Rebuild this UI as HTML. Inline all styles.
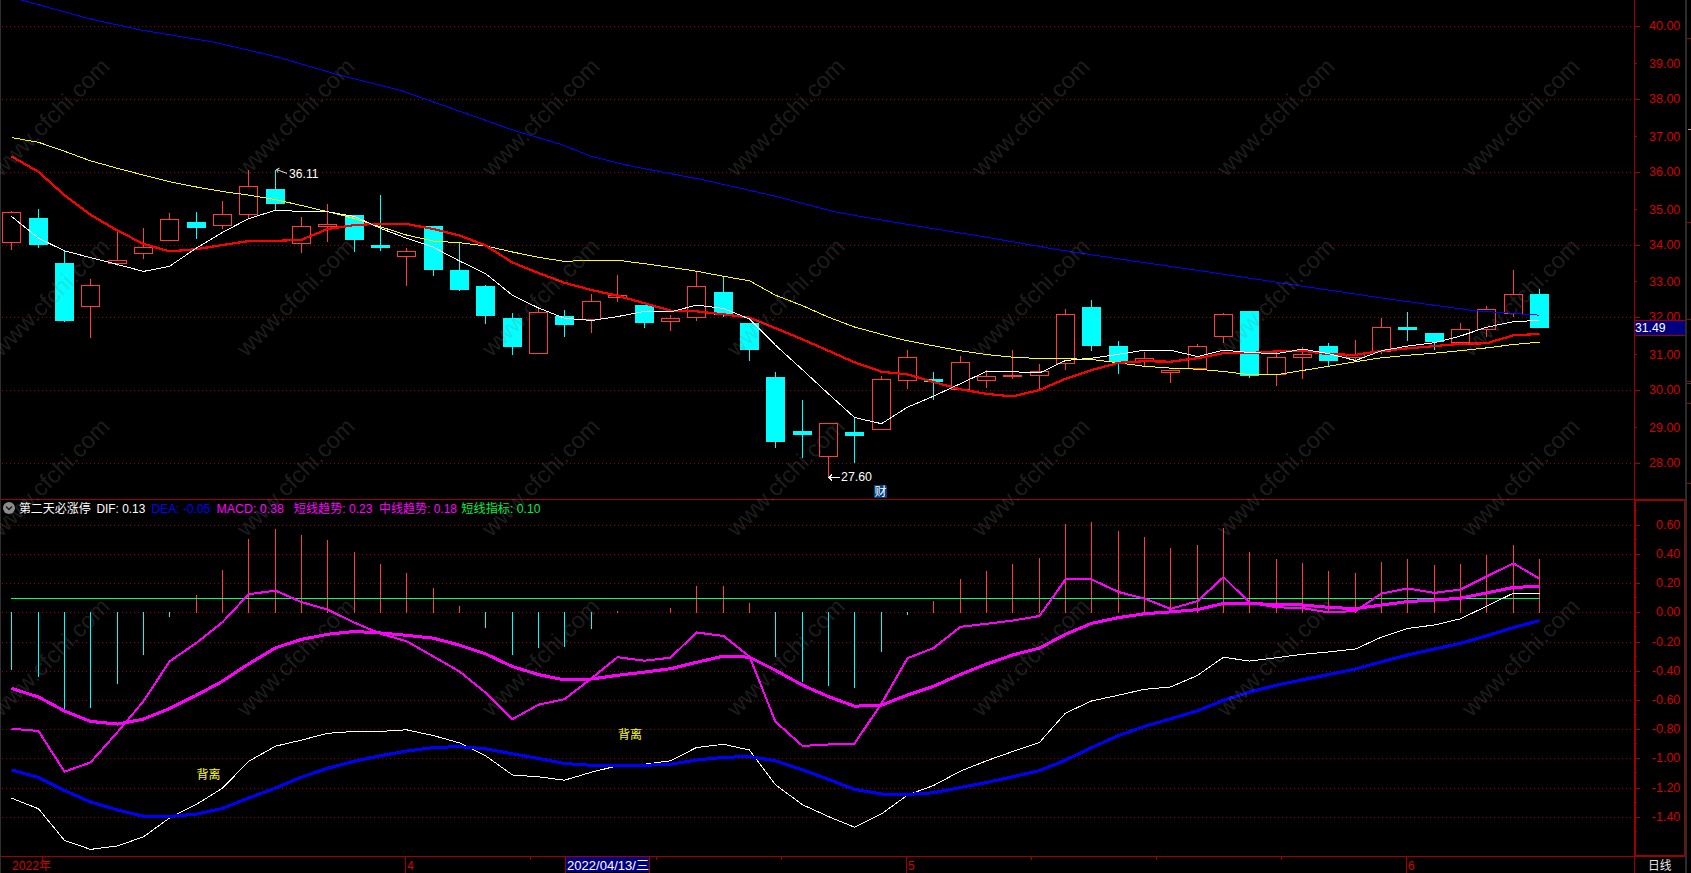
<!DOCTYPE html><html><head><meta charset="utf-8"><title>chart</title><style>html,body{margin:0;padding:0;background:#000;overflow:hidden}svg{display:block}</style></head><body><svg width="1691" height="873" viewBox="0 0 1691 873" shape-rendering="crispEdges" font-family="'Liberation Sans','Noto Sans CJK SC',sans-serif" font-size="12">
<rect width="1691" height="873" fill="#000"/>
<rect x="0" y="0" width="1" height="873" fill="#2e2e2e"/>
<rect x="1685" y="0" width="2" height="873" fill="#2c2c2c"/>
<rect x="1687" y="38" width="4" height="1" fill="#9c0000"/>
<rect x="1687" y="222" width="4" height="1" fill="#9c0000"/>
<rect x="1687" y="319" width="4" height="1" fill="#9c0000"/>
<rect x="1687" y="381" width="4" height="1" fill="#9c0000"/>
<rect x="1687" y="403" width="4" height="1" fill="#9c0000"/>
<rect x="1687" y="483" width="4" height="1" fill="#9c0000"/>
<rect x="1688" y="129" width="3" height="1" fill="#d8a000"/>
<rect x="1687" y="383" width="4" height="1" fill="#3a3a3a"/>
<line x1="2" y1="26.5" x2="1631" y2="26.5" stroke="#900000" stroke-width="1" stroke-dasharray="1 3"/>
<line x1="2" y1="99.5" x2="1631" y2="99.5" stroke="#900000" stroke-width="1" stroke-dasharray="1 3"/>
<line x1="2" y1="172.5" x2="1631" y2="172.5" stroke="#900000" stroke-width="1" stroke-dasharray="1 3"/>
<line x1="2" y1="245.5" x2="1631" y2="245.5" stroke="#900000" stroke-width="1" stroke-dasharray="1 3"/>
<line x1="2" y1="317.5" x2="1631" y2="317.5" stroke="#900000" stroke-width="1" stroke-dasharray="1 3"/>
<line x1="2" y1="390.5" x2="1631" y2="390.5" stroke="#900000" stroke-width="1" stroke-dasharray="1 3"/>
<line x1="2" y1="463.5" x2="1631" y2="463.5" stroke="#900000" stroke-width="1" stroke-dasharray="1 3"/>
<line x1="2" y1="525.5" x2="1631" y2="525.5" stroke="#900000" stroke-width="1" stroke-dasharray="1 3"/>
<line x1="2" y1="554.5" x2="1631" y2="554.5" stroke="#900000" stroke-width="1" stroke-dasharray="1 3"/>
<line x1="2" y1="583.5" x2="1631" y2="583.5" stroke="#900000" stroke-width="1" stroke-dasharray="1 3"/>
<line x1="2" y1="612.5" x2="1631" y2="612.5" stroke="#900000" stroke-width="1" stroke-dasharray="1 3"/>
<line x1="2" y1="642.5" x2="1631" y2="642.5" stroke="#900000" stroke-width="1" stroke-dasharray="1 3"/>
<line x1="2" y1="671.5" x2="1631" y2="671.5" stroke="#900000" stroke-width="1" stroke-dasharray="1 3"/>
<line x1="2" y1="700.5" x2="1631" y2="700.5" stroke="#900000" stroke-width="1" stroke-dasharray="1 3"/>
<line x1="2" y1="729.5" x2="1631" y2="729.5" stroke="#900000" stroke-width="1" stroke-dasharray="1 3"/>
<line x1="2" y1="758.5" x2="1631" y2="758.5" stroke="#900000" stroke-width="1" stroke-dasharray="1 3"/>
<line x1="2" y1="788.5" x2="1631" y2="788.5" stroke="#900000" stroke-width="1" stroke-dasharray="1 3"/>
<line x1="2" y1="817.5" x2="1631" y2="817.5" stroke="#900000" stroke-width="1" stroke-dasharray="1 3"/>
<rect x="1634" y="0" width="1" height="873" fill="#9c0000"/>
<rect x="1635" y="499" width="1" height="358" fill="#9c0000"/>
<rect x="1" y="499" width="1634" height="1" fill="#9c0000"/>
<rect x="1634" y="499" width="51" height="2" fill="#9c0000"/>
<rect x="1684" y="499" width="1" height="358" fill="#9c0000"/>
<rect x="1" y="856" width="1634" height="1" fill="#9c0000"/>
<rect x="1634" y="855" width="51" height="2" fill="#9c0000"/>
<rect x="1635" y="26" width="5" height="1" fill="#9c0000"/>
<text x="1680.3" y="30.1" text-anchor="end" font-size="12.5" fill="#d40000">40.00</text>
<rect x="1635" y="63" width="2" height="1" fill="#9c0000"/>
<text x="1680.3" y="68.1" text-anchor="end" font-size="12.5" fill="#d40000">39.00</text>
<rect x="1635" y="99" width="5" height="1" fill="#9c0000"/>
<text x="1680.3" y="103.1" text-anchor="end" font-size="12.5" fill="#d40000">38.00</text>
<rect x="1635" y="136" width="2" height="1" fill="#9c0000"/>
<text x="1680.3" y="141.1" text-anchor="end" font-size="12.5" fill="#d40000">37.00</text>
<rect x="1635" y="172" width="5" height="1" fill="#9c0000"/>
<text x="1680.3" y="176.1" text-anchor="end" font-size="12.5" fill="#d40000">36.00</text>
<rect x="1635" y="209" width="2" height="1" fill="#9c0000"/>
<text x="1680.3" y="214.1" text-anchor="end" font-size="12.5" fill="#d40000">35.00</text>
<rect x="1635" y="245" width="5" height="1" fill="#9c0000"/>
<text x="1680.3" y="249.1" text-anchor="end" font-size="12.5" fill="#d40000">34.00</text>
<rect x="1635" y="281" width="2" height="1" fill="#9c0000"/>
<text x="1680.3" y="286.1" text-anchor="end" font-size="12.5" fill="#d40000">33.00</text>
<rect x="1635" y="317" width="5" height="1" fill="#9c0000"/>
<text x="1680.3" y="321.1" text-anchor="end" font-size="12.5" fill="#d40000">32.00</text>
<rect x="1635" y="354" width="2" height="1" fill="#9c0000"/>
<text x="1680.3" y="359.1" text-anchor="end" font-size="12.5" fill="#d40000">31.00</text>
<rect x="1635" y="390" width="5" height="1" fill="#9c0000"/>
<text x="1680.3" y="394.1" text-anchor="end" font-size="12.5" fill="#d40000">30.00</text>
<rect x="1635" y="427" width="2" height="1" fill="#9c0000"/>
<text x="1680.3" y="432.1" text-anchor="end" font-size="12.5" fill="#d40000">29.00</text>
<rect x="1635" y="463" width="5" height="1" fill="#9c0000"/>
<text x="1680.3" y="467.1" text-anchor="end" font-size="12.5" fill="#d40000">28.00</text>
<rect x="1636" y="525" width="4" height="1" fill="#9c0000"/>
<text x="1680.3" y="529.1" text-anchor="end" font-size="12.5" fill="#d40000">0.60</text>
<rect x="1636" y="539" width="1" height="1" fill="#9c0000"/>
<rect x="1636" y="554" width="4" height="1" fill="#9c0000"/>
<text x="1680.3" y="558.1" text-anchor="end" font-size="12.5" fill="#d40000">0.40</text>
<rect x="1636" y="568" width="1" height="1" fill="#9c0000"/>
<rect x="1636" y="583" width="4" height="1" fill="#9c0000"/>
<text x="1680.3" y="587.1" text-anchor="end" font-size="12.5" fill="#d40000">0.20</text>
<rect x="1636" y="597" width="1" height="1" fill="#9c0000"/>
<rect x="1636" y="612" width="4" height="1" fill="#9c0000"/>
<text x="1680.3" y="616.1" text-anchor="end" font-size="12.5" fill="#d40000">0.00</text>
<rect x="1636" y="626" width="1" height="1" fill="#9c0000"/>
<rect x="1636" y="642" width="4" height="1" fill="#9c0000"/>
<text x="1680.3" y="646.1" text-anchor="end" font-size="12.5" fill="#d40000">-0.20</text>
<rect x="1636" y="656" width="1" height="1" fill="#9c0000"/>
<rect x="1636" y="671" width="4" height="1" fill="#9c0000"/>
<text x="1680.3" y="675.1" text-anchor="end" font-size="12.5" fill="#d40000">-0.40</text>
<rect x="1636" y="685" width="1" height="1" fill="#9c0000"/>
<rect x="1636" y="700" width="4" height="1" fill="#9c0000"/>
<text x="1680.3" y="704.1" text-anchor="end" font-size="12.5" fill="#d40000">-0.60</text>
<rect x="1636" y="714" width="1" height="1" fill="#9c0000"/>
<rect x="1636" y="729" width="4" height="1" fill="#9c0000"/>
<text x="1680.3" y="733.1" text-anchor="end" font-size="12.5" fill="#d40000">-0.80</text>
<rect x="1636" y="743" width="1" height="1" fill="#9c0000"/>
<rect x="1636" y="758" width="4" height="1" fill="#9c0000"/>
<text x="1680.3" y="762.1" text-anchor="end" font-size="12.5" fill="#d40000">-1.00</text>
<rect x="1636" y="772" width="1" height="1" fill="#9c0000"/>
<rect x="1636" y="788" width="4" height="1" fill="#9c0000"/>
<text x="1680.3" y="792.1" text-anchor="end" font-size="12.5" fill="#d40000">-1.20</text>
<rect x="1636" y="802" width="1" height="1" fill="#9c0000"/>
<rect x="1636" y="817" width="4" height="1" fill="#9c0000"/>
<text x="1680.3" y="821.1" text-anchor="end" font-size="12.5" fill="#d40000">-1.40</text>
<rect x="1636" y="831" width="1" height="1" fill="#9c0000"/>
<rect x="1636" y="510" width="1" height="1" fill="#9c0000"/>
<rect x="11" y="211" width="1" height="1" fill="#ff3c3c"/>
<rect x="11" y="242" width="1" height="8" fill="#ff3c3c"/>
<rect x="2.5" y="212.5" width="18" height="30" fill="#000" stroke="#ff3c3c" stroke-width="1"/>
<rect x="38" y="209" width="1" height="9" fill="#00ffff"/>
<rect x="38" y="244" width="1" height="4" fill="#00ffff"/>
<rect x="29" y="218" width="19" height="27" fill="#00ffff"/>
<rect x="64" y="251" width="1" height="12" fill="#00ffff"/>
<rect x="64" y="320" width="1" height="2" fill="#00ffff"/>
<rect x="55" y="263" width="19" height="58" fill="#00ffff"/>
<rect x="90" y="279" width="1" height="6" fill="#ff3c3c"/>
<rect x="90" y="306" width="1" height="32" fill="#ff3c3c"/>
<rect x="81.5" y="285.5" width="18" height="21" fill="#000" stroke="#ff3c3c" stroke-width="1"/>
<rect x="117" y="230" width="1" height="30" fill="#ff3c3c"/>
<rect x="117" y="263" width="1" height="3" fill="#ff3c3c"/>
<rect x="108.5" y="260.5" width="18" height="3" fill="#000" stroke="#ff3c3c" stroke-width="1"/>
<rect x="143" y="228" width="1" height="19" fill="#ff3c3c"/>
<rect x="143" y="253" width="1" height="6" fill="#ff3c3c"/>
<rect x="134.5" y="247.5" width="18" height="6" fill="#000" stroke="#ff3c3c" stroke-width="1"/>
<rect x="169" y="213" width="1" height="6" fill="#ff3c3c"/>
<rect x="160.5" y="219.5" width="18" height="21" fill="#000" stroke="#ff3c3c" stroke-width="1"/>
<rect x="196" y="212" width="1" height="10" fill="#00ffff"/>
<rect x="196" y="227" width="1" height="12" fill="#00ffff"/>
<rect x="187" y="222" width="19" height="6" fill="#00ffff"/>
<rect x="222" y="201" width="1" height="13" fill="#ff3c3c"/>
<rect x="222" y="225" width="1" height="4" fill="#ff3c3c"/>
<rect x="213.5" y="214.5" width="18" height="11" fill="#000" stroke="#ff3c3c" stroke-width="1"/>
<rect x="248" y="170" width="1" height="16" fill="#ff3c3c"/>
<rect x="248" y="214" width="1" height="5" fill="#ff3c3c"/>
<rect x="239.5" y="186.5" width="18" height="28" fill="#000" stroke="#ff3c3c" stroke-width="1"/>
<rect x="275" y="170" width="1" height="19" fill="#00ffff"/>
<rect x="275" y="203" width="1" height="7" fill="#00ffff"/>
<rect x="266" y="189" width="19" height="15" fill="#00ffff"/>
<rect x="301" y="217" width="1" height="9" fill="#ff3c3c"/>
<rect x="301" y="243" width="1" height="10" fill="#ff3c3c"/>
<rect x="292.5" y="226.5" width="18" height="17" fill="#000" stroke="#ff3c3c" stroke-width="1"/>
<rect x="327" y="204" width="1" height="20" fill="#ff3c3c"/>
<rect x="327" y="226" width="1" height="16" fill="#ff3c3c"/>
<rect x="318.5" y="224.5" width="18" height="2" fill="#000" stroke="#ff3c3c" stroke-width="1"/>
<rect x="354" y="239" width="1" height="13" fill="#00ffff"/>
<rect x="345" y="215" width="19" height="25" fill="#00ffff"/>
<rect x="380" y="195" width="1" height="50" fill="#00ffff"/>
<rect x="380" y="247" width="1" height="4" fill="#00ffff"/>
<rect x="371" y="245" width="19" height="3" fill="#00ffff"/>
<rect x="406" y="248" width="1" height="3" fill="#ff3c3c"/>
<rect x="406" y="256" width="1" height="30" fill="#ff3c3c"/>
<rect x="397.5" y="251.5" width="18" height="5" fill="#000" stroke="#ff3c3c" stroke-width="1"/>
<rect x="433" y="269" width="1" height="7" fill="#00ffff"/>
<rect x="424" y="226" width="19" height="44" fill="#00ffff"/>
<rect x="459" y="242" width="1" height="28" fill="#00ffff"/>
<rect x="459" y="289" width="1" height="2" fill="#00ffff"/>
<rect x="450" y="270" width="19" height="20" fill="#00ffff"/>
<rect x="485" y="285" width="1" height="1" fill="#00ffff"/>
<rect x="485" y="315" width="1" height="9" fill="#00ffff"/>
<rect x="476" y="286" width="19" height="30" fill="#00ffff"/>
<rect x="512" y="313" width="1" height="5" fill="#00ffff"/>
<rect x="512" y="346" width="1" height="9" fill="#00ffff"/>
<rect x="503" y="318" width="19" height="29" fill="#00ffff"/>
<rect x="538" y="308" width="1" height="4" fill="#ff3c3c"/>
<rect x="529.5" y="312.5" width="18" height="41" fill="#000" stroke="#ff3c3c" stroke-width="1"/>
<rect x="564" y="310" width="1" height="6" fill="#00ffff"/>
<rect x="564" y="324" width="1" height="13" fill="#00ffff"/>
<rect x="555" y="316" width="19" height="9" fill="#00ffff"/>
<rect x="591" y="294" width="1" height="7" fill="#ff3c3c"/>
<rect x="591" y="319" width="1" height="14" fill="#ff3c3c"/>
<rect x="582.5" y="301.5" width="18" height="18" fill="#000" stroke="#ff3c3c" stroke-width="1"/>
<rect x="617" y="275" width="1" height="20" fill="#ff3c3c"/>
<rect x="617" y="297" width="1" height="5" fill="#ff3c3c"/>
<rect x="608.5" y="295.5" width="18" height="2" fill="#000" stroke="#ff3c3c" stroke-width="1"/>
<rect x="644" y="322" width="1" height="6" fill="#00ffff"/>
<rect x="635" y="305" width="19" height="18" fill="#00ffff"/>
<rect x="670" y="315" width="1" height="3" fill="#ff3c3c"/>
<rect x="670" y="321" width="1" height="10" fill="#ff3c3c"/>
<rect x="661.5" y="318.5" width="18" height="3" fill="#000" stroke="#ff3c3c" stroke-width="1"/>
<rect x="696" y="271" width="1" height="15" fill="#ff3c3c"/>
<rect x="696" y="317" width="1" height="4" fill="#ff3c3c"/>
<rect x="687.5" y="286.5" width="18" height="31" fill="#000" stroke="#ff3c3c" stroke-width="1"/>
<rect x="723" y="277" width="1" height="15" fill="#00ffff"/>
<rect x="723" y="314" width="1" height="3" fill="#00ffff"/>
<rect x="714" y="292" width="19" height="23" fill="#00ffff"/>
<rect x="749" y="349" width="1" height="12" fill="#00ffff"/>
<rect x="740" y="323" width="19" height="27" fill="#00ffff"/>
<rect x="775" y="372" width="1" height="5" fill="#00ffff"/>
<rect x="775" y="441" width="1" height="7" fill="#00ffff"/>
<rect x="766" y="377" width="19" height="65" fill="#00ffff"/>
<rect x="802" y="400" width="1" height="31" fill="#00ffff"/>
<rect x="802" y="434" width="1" height="24" fill="#00ffff"/>
<rect x="793" y="431" width="19" height="4" fill="#00ffff"/>
<rect x="828" y="456" width="1" height="22" fill="#ff3c3c"/>
<rect x="819.5" y="423.5" width="18" height="33" fill="#000" stroke="#ff3c3c" stroke-width="1"/>
<rect x="854" y="417" width="1" height="15" fill="#00ffff"/>
<rect x="854" y="435" width="1" height="28" fill="#00ffff"/>
<rect x="845" y="432" width="19" height="4" fill="#00ffff"/>
<rect x="881" y="376" width="1" height="3" fill="#ff3c3c"/>
<rect x="872.5" y="379.5" width="18" height="50" fill="#000" stroke="#ff3c3c" stroke-width="1"/>
<rect x="907" y="350" width="1" height="7" fill="#ff3c3c"/>
<rect x="907" y="380" width="1" height="9" fill="#ff3c3c"/>
<rect x="898.5" y="357.5" width="18" height="23" fill="#000" stroke="#ff3c3c" stroke-width="1"/>
<rect x="933" y="372" width="1" height="7" fill="#00ffff"/>
<rect x="933" y="381" width="1" height="19" fill="#00ffff"/>
<rect x="924" y="379" width="19" height="3" fill="#00ffff"/>
<rect x="960" y="356" width="1" height="6" fill="#ff3c3c"/>
<rect x="951.5" y="362.5" width="18" height="27" fill="#000" stroke="#ff3c3c" stroke-width="1"/>
<rect x="986" y="370" width="1" height="6" fill="#ff3c3c"/>
<rect x="986" y="380" width="1" height="8" fill="#ff3c3c"/>
<rect x="977.5" y="376.5" width="18" height="4" fill="#000" stroke="#ff3c3c" stroke-width="1"/>
<rect x="1012" y="350" width="1" height="25" fill="#ff3c3c"/>
<rect x="1012" y="376" width="1" height="3" fill="#ff3c3c"/>
<rect x="1003.5" y="375.5" width="18" height="1" fill="#000" stroke="#ff3c3c" stroke-width="1"/>
<rect x="1039" y="364" width="1" height="7" fill="#ff3c3c"/>
<rect x="1039" y="375" width="1" height="14" fill="#ff3c3c"/>
<rect x="1030.5" y="371.5" width="18" height="4" fill="#000" stroke="#ff3c3c" stroke-width="1"/>
<rect x="1065" y="309" width="1" height="5" fill="#ff3c3c"/>
<rect x="1065" y="363" width="1" height="7" fill="#ff3c3c"/>
<rect x="1056.5" y="314.5" width="18" height="49" fill="#000" stroke="#ff3c3c" stroke-width="1"/>
<rect x="1091" y="300" width="1" height="7" fill="#00ffff"/>
<rect x="1091" y="345" width="1" height="6" fill="#00ffff"/>
<rect x="1082" y="307" width="19" height="39" fill="#00ffff"/>
<rect x="1118" y="341" width="1" height="5" fill="#00ffff"/>
<rect x="1118" y="361" width="1" height="13" fill="#00ffff"/>
<rect x="1109" y="346" width="19" height="16" fill="#00ffff"/>
<rect x="1144" y="352" width="1" height="6" fill="#ff3c3c"/>
<rect x="1144" y="361" width="1" height="6" fill="#ff3c3c"/>
<rect x="1135.5" y="358.5" width="18" height="3" fill="#000" stroke="#ff3c3c" stroke-width="1"/>
<rect x="1170" y="372" width="1" height="11" fill="#ff3c3c"/>
<rect x="1161.5" y="370.5" width="18" height="2" fill="#000" stroke="#ff3c3c" stroke-width="1"/>
<rect x="1197" y="344" width="1" height="2" fill="#ff3c3c"/>
<rect x="1188.5" y="346.5" width="18" height="22" fill="#000" stroke="#ff3c3c" stroke-width="1"/>
<rect x="1223" y="313" width="1" height="1" fill="#ff3c3c"/>
<rect x="1223" y="336" width="1" height="7" fill="#ff3c3c"/>
<rect x="1214.5" y="314.5" width="18" height="22" fill="#000" stroke="#ff3c3c" stroke-width="1"/>
<rect x="1249" y="375" width="1" height="3" fill="#00ffff"/>
<rect x="1240" y="311" width="19" height="65" fill="#00ffff"/>
<rect x="1276" y="352" width="1" height="5" fill="#ff3c3c"/>
<rect x="1276" y="374" width="1" height="12" fill="#ff3c3c"/>
<rect x="1267.5" y="357.5" width="18" height="17" fill="#000" stroke="#ff3c3c" stroke-width="1"/>
<rect x="1302" y="347" width="1" height="7" fill="#ff3c3c"/>
<rect x="1302" y="357" width="1" height="22" fill="#ff3c3c"/>
<rect x="1293.5" y="354.5" width="18" height="3" fill="#000" stroke="#ff3c3c" stroke-width="1"/>
<rect x="1328" y="343" width="1" height="3" fill="#00ffff"/>
<rect x="1328" y="360" width="1" height="6" fill="#00ffff"/>
<rect x="1319" y="346" width="19" height="15" fill="#00ffff"/>
<rect x="1355" y="340" width="1" height="14" fill="#ff3c3c"/>
<rect x="1355" y="357" width="1" height="5" fill="#ff3c3c"/>
<rect x="1346.5" y="354.5" width="18" height="3" fill="#000" stroke="#ff3c3c" stroke-width="1"/>
<rect x="1381" y="318" width="1" height="9" fill="#ff3c3c"/>
<rect x="1381" y="351" width="1" height="3" fill="#ff3c3c"/>
<rect x="1372.5" y="327.5" width="18" height="24" fill="#000" stroke="#ff3c3c" stroke-width="1"/>
<rect x="1407" y="312" width="1" height="15" fill="#00ffff"/>
<rect x="1407" y="329" width="1" height="12" fill="#00ffff"/>
<rect x="1398" y="327" width="19" height="3" fill="#00ffff"/>
<rect x="1434" y="341" width="1" height="9" fill="#00ffff"/>
<rect x="1425" y="333" width="19" height="9" fill="#00ffff"/>
<rect x="1460" y="323" width="1" height="6" fill="#ff3c3c"/>
<rect x="1451.5" y="329.5" width="18" height="13" fill="#000" stroke="#ff3c3c" stroke-width="1"/>
<rect x="1486" y="306" width="1" height="3" fill="#ff3c3c"/>
<rect x="1486" y="329" width="1" height="8" fill="#ff3c3c"/>
<rect x="1477.5" y="309.5" width="18" height="20" fill="#000" stroke="#ff3c3c" stroke-width="1"/>
<rect x="1513" y="270" width="1" height="24" fill="#ff3c3c"/>
<rect x="1513" y="313" width="1" height="4" fill="#ff3c3c"/>
<rect x="1504.5" y="294.5" width="18" height="19" fill="#000" stroke="#ff3c3c" stroke-width="1"/>
<rect x="1539" y="289" width="1" height="5" fill="#00ffff"/>
<rect x="1530" y="294" width="19" height="34" fill="#00ffff"/>
<polyline points="21.3,0 92.3,19.5 141.9,30.2 212.9,41.9 276.8,56.8 337.1,74.5 401,90.5 461.3,111.8 514.5,130.6 560,144.1 591.9,156.6 631,166.1 701.9,179.6 772.9,195.6 836.8,212.3 914.9,225.7 985.8,237.1 1056.8,249.5 1127.8,260.2 1203.2,271.2 1290,284.3 1381.6,298 1473.2,310.6 1539.4,315.2" fill="none" stroke="#0000ff" stroke-width="1"/>
<polyline points="11.5,137.6 38.5,142.3 64.5,151.3 90.5,160.8 117.5,168.3 143.5,175.1 169.5,181.7 196.5,187.0 222.5,191.5 248.5,195.1 275.5,199.6 301.5,205.5 327.5,211.7 354.5,218.5 380.5,226.8 406.5,235.0 433.5,241.1 459.5,242.7 485.5,245.9 512.5,252.0 538.5,257.3 564.5,261.4 591.5,260.2 617.5,260.2 644.5,263.7 670.5,267.3 696.5,271.2 723.5,276.3 749.5,280.8 775.5,295.2 802.5,305.7 828.5,317.2 854.5,327.0 881.5,334.3 907.5,340.8 933.5,345.8 960.5,350.8 986.5,354.5 1012.5,357.2 1039.5,358.5 1065.5,358.7 1091.5,359.4 1118.5,362.8 1144.5,366.3 1170.5,368.1 1197.5,369.2 1223.5,371.5 1249.5,374.7 1276.5,374.7 1302.5,370.5 1328.5,366.3 1355.5,361.7 1381.5,357.8 1407.5,355.3 1434.5,353.2 1460.5,350.7 1486.5,347.9 1513.5,344.5 1539.5,342.2" fill="none" stroke="#ffff00" stroke-width="1" stroke-linejoin="round"/>
<polyline points="11.5,156.4 38.5,171.8 64.5,195.3 90.5,214.8 117.5,230.6 143.5,243.9 169.5,251.4 196.5,249.2 222.5,245.0 248.5,241.1 275.5,240.9 301.5,239.8 327.5,229.0 354.5,225.1 380.5,223.7 406.5,224.0 433.5,229.0 459.5,235.4 485.5,245.4 512.5,262.5 538.5,273.0 564.5,282.8 591.5,290.0 617.5,295.7 644.5,303.3 670.5,310.6 696.5,311.3 723.5,314.3 749.5,317.7 775.5,328.2 802.5,339.4 828.5,350.8 854.5,362.3 881.5,371.7 907.5,374.4 933.5,382.0 960.5,389.3 986.5,393.9 1012.5,396.4 1039.5,390.0 1065.5,378.8 1091.5,370.1 1118.5,362.8 1144.5,361.2 1170.5,361.7 1197.5,358.2 1223.5,353.2 1249.5,353.0 1276.5,351.4 1302.5,350.7 1328.5,354.3 1355.5,354.8 1381.5,350.9 1407.5,348.4 1434.5,346.1 1460.5,343.8 1486.5,343.3 1513.5,335.3 1539.5,334.0" fill="none" stroke="#ff0000" stroke-width="2.2" stroke-linejoin="round"/>
<polyline points="11.5,216.4 38.5,238.2 64.5,250.8 90.5,257.6 117.5,264.5 143.5,271.4 169.5,266.3 196.5,248.0 222.5,232.4 248.5,218.7 275.5,210.3 301.5,211.4 327.5,211.8 354.5,216.4 380.5,228.3 406.5,238.2 433.5,247.3 459.5,261.0 485.5,273.6 512.5,295.3 538.5,308.0 564.5,318.2 591.5,320.5 617.5,316.6 644.5,311.3 670.5,312.0 696.5,305.1 723.5,308.5 749.5,319.0 775.5,345.2 802.5,369.8 828.5,393.9 854.5,417.5 881.5,423.7 907.5,407.2 933.5,396.2 960.5,383.6 986.5,371.4 1012.5,371.7 1039.5,373.0 1065.5,360.5 1091.5,358.2 1118.5,354.3 1144.5,350.2 1170.5,350.2 1197.5,356.6 1223.5,350.2 1249.5,352.5 1276.5,353.7 1302.5,349.1 1328.5,353.7 1355.5,360.5 1381.5,350.7 1407.5,346.1 1434.5,342.7 1460.5,336.0 1486.5,327.3 1513.5,321.6 1539.5,320.5" fill="none" stroke="#ffffff" stroke-width="1" stroke-linejoin="round"/>
<path d="M287 173.4L276.5 169.5M276.5 169.5L279.5 168.2M276.5 169.5L277.8 172.5" fill="none" stroke="#e8e8e8" stroke-width="1" shape-rendering="auto"/>
<text x="289" y="178" fill="#ffffff" textLength="29.5" lengthAdjust="spacingAndGlyphs">36.11</text>
<path d="M829 477.5H840M832 474.5L829 477.5L832 480.5" fill="none" stroke="#fff" stroke-width="1"/>
<text x="841" y="481" fill="#ffffff" textLength="31" lengthAdjust="spacingAndGlyphs">27.60</text>
<path d="M874 485H885L887 487V498H874Z" fill="#004080"/>
<text x="874.5" y="496" fill="#fff">财</text>
<rect x="1635" y="320" width="50" height="16" fill="#000080"/>
<rect x="1635" y="320" width="50" height="1" fill="#9c0000"/><rect x="1635" y="335" width="50" height="1" fill="#9c0000"/>
<text x="1635" y="331.5" fill="#fff" textLength="30.5" lengthAdjust="spacingAndGlyphs">31.49</text>
<rect x="11" y="612" width="1" height="58" fill="#00ffff"/>
<rect x="38" y="612" width="1" height="65" fill="#00ffff"/>
<rect x="64" y="612" width="1" height="98" fill="#00ffff"/>
<rect x="90" y="612" width="1" height="96" fill="#00ffff"/>
<rect x="117" y="612" width="1" height="72" fill="#00ffff"/>
<rect x="143" y="612" width="1" height="43" fill="#00ffff"/>
<rect x="169" y="612" width="1" height="5" fill="#00ffff"/>
<rect x="196" y="595" width="1" height="18" fill="#ff3c3c"/>
<rect x="222" y="570" width="1" height="43" fill="#ff3c3c"/>
<rect x="248" y="539" width="1" height="74" fill="#ff3c3c"/>
<rect x="275" y="529" width="1" height="84" fill="#ff3c3c"/>
<rect x="301" y="535" width="1" height="78" fill="#ff3c3c"/>
<rect x="327" y="540" width="1" height="73" fill="#ff3c3c"/>
<rect x="354" y="552" width="1" height="61" fill="#ff3c3c"/>
<rect x="380" y="564" width="1" height="49" fill="#ff3c3c"/>
<rect x="406" y="573" width="1" height="40" fill="#ff3c3c"/>
<rect x="433" y="588" width="1" height="25" fill="#ff3c3c"/>
<rect x="459" y="606" width="1" height="7" fill="#ff3c3c"/>
<rect x="485" y="612" width="1" height="16" fill="#00ffff"/>
<rect x="512" y="612" width="1" height="43" fill="#00ffff"/>
<rect x="538" y="612" width="1" height="36" fill="#00ffff"/>
<rect x="564" y="612" width="1" height="35" fill="#00ffff"/>
<rect x="591" y="612" width="1" height="17" fill="#00ffff"/>
<rect x="617" y="611" width="1" height="2" fill="#ff3c3c"/>
<rect x="670" y="608" width="1" height="5" fill="#ff3c3c"/>
<rect x="696" y="586" width="1" height="27" fill="#ff3c3c"/>
<rect x="723" y="586" width="1" height="27" fill="#ff3c3c"/>
<rect x="749" y="603" width="1" height="10" fill="#ff3c3c"/>
<rect x="775" y="612" width="1" height="45" fill="#00ffff"/>
<rect x="802" y="612" width="1" height="70" fill="#00ffff"/>
<rect x="828" y="612" width="1" height="74" fill="#00ffff"/>
<rect x="854" y="612" width="1" height="76" fill="#00ffff"/>
<rect x="881" y="612" width="1" height="40" fill="#00ffff"/>
<rect x="907" y="612" width="1" height="3" fill="#00ffff"/>
<rect x="933" y="601" width="1" height="12" fill="#ff3c3c"/>
<rect x="960" y="579" width="1" height="34" fill="#ff3c3c"/>
<rect x="986" y="571" width="1" height="42" fill="#ff3c3c"/>
<rect x="1012" y="564" width="1" height="49" fill="#ff3c3c"/>
<rect x="1039" y="558" width="1" height="55" fill="#ff3c3c"/>
<rect x="1065" y="524" width="1" height="89" fill="#ff3c3c"/>
<rect x="1091" y="522" width="1" height="91" fill="#ff3c3c"/>
<rect x="1118" y="531" width="1" height="82" fill="#ff3c3c"/>
<rect x="1144" y="537" width="1" height="76" fill="#ff3c3c"/>
<rect x="1170" y="548" width="1" height="65" fill="#ff3c3c"/>
<rect x="1197" y="545" width="1" height="68" fill="#ff3c3c"/>
<rect x="1223" y="528" width="1" height="85" fill="#ff3c3c"/>
<rect x="1249" y="552" width="1" height="61" fill="#ff3c3c"/>
<rect x="1276" y="559" width="1" height="54" fill="#ff3c3c"/>
<rect x="1302" y="563" width="1" height="50" fill="#ff3c3c"/>
<rect x="1328" y="571" width="1" height="42" fill="#ff3c3c"/>
<rect x="1355" y="573" width="1" height="40" fill="#ff3c3c"/>
<rect x="1381" y="562" width="1" height="51" fill="#ff3c3c"/>
<rect x="1407" y="559" width="1" height="54" fill="#ff3c3c"/>
<rect x="1434" y="565" width="1" height="48" fill="#ff3c3c"/>
<rect x="1460" y="564" width="1" height="49" fill="#ff3c3c"/>
<rect x="1486" y="555" width="1" height="58" fill="#ff3c3c"/>
<rect x="1513" y="545" width="1" height="68" fill="#ff3c3c"/>
<rect x="1539" y="559" width="1" height="54" fill="#ff3c3c"/>
<rect x="11" y="598" width="1529" height="1" fill="#00ff60"/>
<polyline points="11.5,798.1 38.5,808.8 64.5,840.4 90.5,849.4 117.5,845.9 143.5,836.8 169.5,818.0 196.5,804.3 222.5,788.2 248.5,761.4 275.5,746.2 301.5,740.1 327.5,733.3 354.5,731.4 380.5,731.4 406.5,729.8 433.5,735.6 459.5,742.9 485.5,755.7 512.5,775.0 538.5,776.8 564.5,780.2 591.5,772.2 617.5,765.8 644.5,764.2 670.5,760.8 696.5,747.5 723.5,744.3 749.5,750.0 775.5,784.8 802.5,804.7 828.5,816.6 854.5,827.2 881.5,813.9 907.5,795.1 933.5,785.5 960.5,771.1 986.5,760.8 1012.5,751.6 1039.5,742.4 1065.5,713.1 1091.5,701.0 1118.5,695.2 1144.5,689.3 1170.5,687.0 1197.5,675.4 1223.5,657.2 1249.5,661.1 1276.5,657.7 1302.5,654.3 1328.5,652.0 1355.5,649.0 1381.5,637.1 1407.5,628.4 1434.5,625.0 1460.5,618.8 1486.5,606.2 1513.5,593.1 1539.5,593.1" fill="none" stroke="#ffffff" stroke-width="1" stroke-linejoin="round"/>
<polyline points="11.5,728.7 38.5,731.0 64.5,771.7 90.5,762.4 117.5,732.1 143.5,701.2 169.5,661.5 196.5,642.8 222.5,622.2 248.5,594.3 275.5,590.6 301.5,602.1 327.5,609.6 354.5,622.7 380.5,633.7 406.5,641.2 433.5,656.6 459.5,671.5 485.5,692.6 512.5,719.1 538.5,704.7 564.5,699.2 591.5,678.3 617.5,657.2 644.5,660.7 670.5,657.7 696.5,632.5 723.5,635.9 749.5,656.6 775.5,721.8 802.5,745.9 828.5,744.5 854.5,743.6 881.5,703.5 907.5,658.2 933.5,648.1 960.5,626.8 986.5,623.8 1012.5,620.6 1039.5,616.0 1065.5,579.4 1091.5,579.4 1118.5,592.0 1144.5,598.6 1170.5,608.9 1197.5,601.1 1223.5,577.1 1249.5,602.7 1276.5,607.3 1302.5,608.0 1328.5,612.4 1355.5,611.0 1381.5,593.6 1407.5,588.5 1434.5,592.9 1460.5,589.5 1486.5,576.4 1513.5,563.4 1539.5,578.7" fill="none" stroke="#ff00ff" stroke-width="2" stroke-linejoin="round"/>
<polyline points="11.5,688.4 38.5,697.0 64.5,711.0 90.5,721.4 117.5,724.1 143.5,719.1 169.5,708.6 196.5,695.2 222.5,681.2 248.5,664.0 275.5,647.8 301.5,639.4 327.5,634.3 354.5,631.4 380.5,633.0 406.5,635.3 433.5,638.2 459.5,645.1 485.5,653.8 512.5,666.6 538.5,674.6 564.5,679.9 591.5,679.0 617.5,675.3 644.5,672.1 670.5,668.7 696.5,662.3 723.5,656.1 749.5,657.2 775.5,670.3 802.5,685.2 828.5,696.6 854.5,706.2 881.5,705.1 907.5,695.0 933.5,686.3 960.5,674.4 986.5,664.1 1012.5,655.0 1039.5,648.1 1065.5,634.3 1091.5,623.4 1118.5,617.6 1144.5,613.7 1170.5,611.9 1197.5,609.6 1223.5,603.4 1249.5,603.4 1276.5,604.6 1302.5,605.0 1328.5,607.3 1355.5,608.7 1381.5,605.0 1407.5,601.6 1434.5,600.0 1460.5,598.2 1486.5,592.9 1513.5,587.4 1539.5,586.3" fill="none" stroke="#ff00ff" stroke-width="3" stroke-linejoin="round"/>
<polyline points="11.5,769.9 38.5,777.5 64.5,790.5 90.5,802.0 117.5,810.0 143.5,816.2 169.5,816.4 196.5,814.1 222.5,808.4 248.5,798.1 275.5,788.0 301.5,777.2 327.5,768.3 354.5,761.2 380.5,755.7 406.5,751.1 433.5,747.5 459.5,746.6 485.5,748.8 512.5,753.9 538.5,758.5 564.5,763.5 591.5,765.3 617.5,765.8 644.5,765.3 670.5,764.2 696.5,760.1 723.5,757.3 749.5,756.6 775.5,760.8 802.5,769.9 828.5,779.3 854.5,789.4 881.5,794.0 907.5,794.4 933.5,792.8 960.5,787.5 986.5,782.5 1012.5,776.8 1039.5,770.6 1065.5,760.1 1091.5,747.6 1118.5,735.6 1144.5,726.4 1170.5,718.9 1197.5,710.8 1223.5,700.3 1249.5,692.0 1276.5,685.2 1302.5,679.8 1328.5,674.6 1355.5,669.0 1381.5,661.8 1407.5,655.0 1434.5,649.0 1460.5,643.3 1486.5,635.9 1513.5,627.5 1539.5,620.6" fill="none" stroke="#0000ff" stroke-width="3" stroke-linejoin="round"/>
<text x="196.5" y="779" fill="#ffff00">背离</text>
<text x="618" y="739" fill="#ffff00">背离</text>
<circle cx="9" cy="508" r="6" fill="#8c8c8c" shape-rendering="auto"/>
<path d="M6 506.5L9 509.5L12 506.5" fill="none" stroke="#1a1a1a" stroke-width="1.3" shape-rendering="auto"/>
<text x="18.9" y="512.6" fill="#ffffff" textLength="71.9" lengthAdjust="spacingAndGlyphs">第二天必涨停</text>
<text x="96.5" y="512.6" fill="#ffffff" textLength="48.8" lengthAdjust="spacingAndGlyphs">DIF: 0.13</text>
<text x="151.5" y="512.6" fill="#0000ff" textLength="58.9" lengthAdjust="spacingAndGlyphs">DEA: -0.05</text>
<text x="216.5" y="512.6" fill="#ff00ff" textLength="67.4" lengthAdjust="spacingAndGlyphs">MACD: 0.38</text>
<text x="293.8" y="512.6" fill="#ff00ff" textLength="78.8" lengthAdjust="spacingAndGlyphs">短线趋势: 0.23</text>
<text x="379" y="512.6" fill="#ff00ff" textLength="78.0" lengthAdjust="spacingAndGlyphs">中线趋势: 0.18</text>
<text x="461.3" y="512.6" fill="#00f048" textLength="79.2" lengthAdjust="spacingAndGlyphs">短线指标: 0.10</text>
<rect x="405" y="857" width="1" height="16" fill="#9c0000"/>
<text x="407" y="870" fill="#d40000">4</text>
<rect x="906" y="857" width="1" height="16" fill="#9c0000"/>
<text x="908" y="870" fill="#d40000">5</text>
<rect x="1406" y="857" width="1" height="16" fill="#9c0000"/>
<text x="1408" y="870" fill="#d40000">6</text>
<rect x="530" y="857" width="1" height="3" fill="#9c0000"/>
<rect x="656" y="857" width="1" height="3" fill="#9c0000"/>
<rect x="781" y="857" width="1" height="3" fill="#9c0000"/>
<rect x="1031" y="857" width="1" height="3" fill="#9c0000"/>
<rect x="1156" y="857" width="1" height="3" fill="#9c0000"/>
<rect x="1281" y="857" width="1" height="3" fill="#9c0000"/>
<rect x="42" y="857" width="1" height="2" fill="#9c0000"/>
<text x="12" y="869.5" fill="#d40000" textLength="39" lengthAdjust="spacingAndGlyphs">2022年</text>
<rect x="566" y="857" width="84" height="15" fill="#000080"/>
<rect x="565" y="857" width="1" height="16" fill="#9c0000"/><rect x="649" y="857" width="1" height="16" fill="#9c0000"/>
<text x="567" y="869.5" fill="#fff" textLength="82" lengthAdjust="spacingAndGlyphs">2022/04/13/三</text>
<text x="1648" y="869.5" fill="#e8e8e8" textLength="23.5" lengthAdjust="spacingAndGlyphs">日线</text>
<g fill="rgba(128,128,128,0.23)" font-size="23.3" shape-rendering="auto" font-family="'Liberation Sans',sans-serif">
<text transform="translate(1.3000000000000114,177.8) rotate(-45)" textLength="155.4" lengthAdjust="spacingAndGlyphs">www.cfchi.com</text>
<text transform="translate(246.3,177.8) rotate(-45)" textLength="155.4" lengthAdjust="spacingAndGlyphs">www.cfchi.com</text>
<text transform="translate(491.3,177.8) rotate(-45)" textLength="155.4" lengthAdjust="spacingAndGlyphs">www.cfchi.com</text>
<text transform="translate(736.3,177.8) rotate(-45)" textLength="155.4" lengthAdjust="spacingAndGlyphs">www.cfchi.com</text>
<text transform="translate(981.3,177.8) rotate(-45)" textLength="155.4" lengthAdjust="spacingAndGlyphs">www.cfchi.com</text>
<text transform="translate(1226.3,177.8) rotate(-45)" textLength="155.4" lengthAdjust="spacingAndGlyphs">www.cfchi.com</text>
<text transform="translate(1471.3,177.8) rotate(-45)" textLength="155.4" lengthAdjust="spacingAndGlyphs">www.cfchi.com</text>
<text transform="translate(1.3000000000000114,357.8) rotate(-45)" textLength="155.4" lengthAdjust="spacingAndGlyphs">www.cfchi.com</text>
<text transform="translate(246.3,357.8) rotate(-45)" textLength="155.4" lengthAdjust="spacingAndGlyphs">www.cfchi.com</text>
<text transform="translate(491.3,357.8) rotate(-45)" textLength="155.4" lengthAdjust="spacingAndGlyphs">www.cfchi.com</text>
<text transform="translate(736.3,357.8) rotate(-45)" textLength="155.4" lengthAdjust="spacingAndGlyphs">www.cfchi.com</text>
<text transform="translate(981.3,357.8) rotate(-45)" textLength="155.4" lengthAdjust="spacingAndGlyphs">www.cfchi.com</text>
<text transform="translate(1226.3,357.8) rotate(-45)" textLength="155.4" lengthAdjust="spacingAndGlyphs">www.cfchi.com</text>
<text transform="translate(1471.3,357.8) rotate(-45)" textLength="155.4" lengthAdjust="spacingAndGlyphs">www.cfchi.com</text>
<text transform="translate(1.3000000000000114,537.8) rotate(-45)" textLength="155.4" lengthAdjust="spacingAndGlyphs">www.cfchi.com</text>
<text transform="translate(246.3,537.8) rotate(-45)" textLength="155.4" lengthAdjust="spacingAndGlyphs">www.cfchi.com</text>
<text transform="translate(491.3,537.8) rotate(-45)" textLength="155.4" lengthAdjust="spacingAndGlyphs">www.cfchi.com</text>
<text transform="translate(736.3,537.8) rotate(-45)" textLength="155.4" lengthAdjust="spacingAndGlyphs">www.cfchi.com</text>
<text transform="translate(981.3,537.8) rotate(-45)" textLength="155.4" lengthAdjust="spacingAndGlyphs">www.cfchi.com</text>
<text transform="translate(1226.3,537.8) rotate(-45)" textLength="155.4" lengthAdjust="spacingAndGlyphs">www.cfchi.com</text>
<text transform="translate(1471.3,537.8) rotate(-45)" textLength="155.4" lengthAdjust="spacingAndGlyphs">www.cfchi.com</text>
<text transform="translate(1.3000000000000114,717.8) rotate(-45)" textLength="155.4" lengthAdjust="spacingAndGlyphs">www.cfchi.com</text>
<text transform="translate(246.3,717.8) rotate(-45)" textLength="155.4" lengthAdjust="spacingAndGlyphs">www.cfchi.com</text>
<text transform="translate(491.3,717.8) rotate(-45)" textLength="155.4" lengthAdjust="spacingAndGlyphs">www.cfchi.com</text>
<text transform="translate(736.3,717.8) rotate(-45)" textLength="155.4" lengthAdjust="spacingAndGlyphs">www.cfchi.com</text>
<text transform="translate(981.3,717.8) rotate(-45)" textLength="155.4" lengthAdjust="spacingAndGlyphs">www.cfchi.com</text>
<text transform="translate(1226.3,717.8) rotate(-45)" textLength="155.4" lengthAdjust="spacingAndGlyphs">www.cfchi.com</text>
<text transform="translate(1471.3,717.8) rotate(-45)" textLength="155.4" lengthAdjust="spacingAndGlyphs">www.cfchi.com</text>
</g>
</svg></body></html>
